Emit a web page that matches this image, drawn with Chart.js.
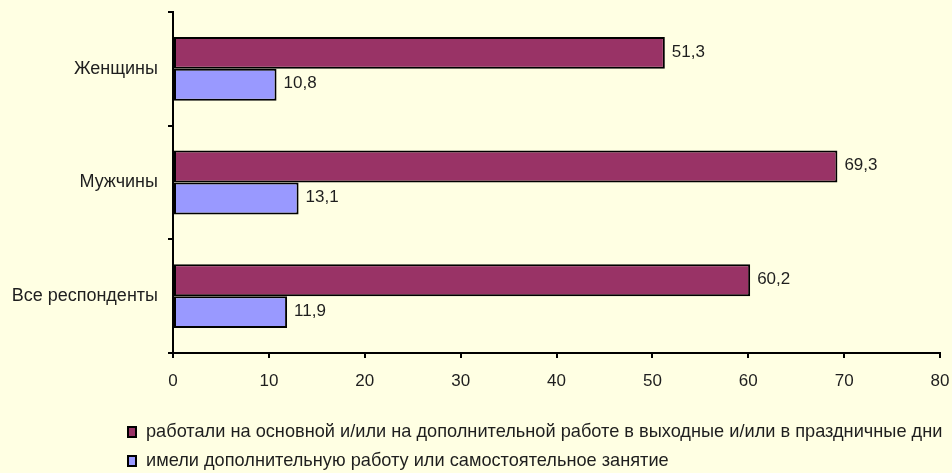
<!DOCTYPE html>
<html>
<head>
<meta charset="utf-8">
<script src="https://cdn.jsdelivr.net/npm/chart.js@4/dist/chart.umd.min.js"></script>
<style>
  html, body { margin: 0; padding: 0; background: #FFFFE3; }
  #wrap { width: 952px; height: 473px; position: relative; }
</style>
</head>
<body>
<div id="wrap"><canvas id="c"></canvas></div>
<script>
const categories = ["Женщины", "Мужчины", "Все респонденты"];
const seriesNames = [
  "работали на основной и/или на дополнительной работе в выходные и/или в праздничные дни",
  "имели дополнительную работу или самостоятельное занятие"
];
const weekendWork = [51.3, 69.3, 60.2];
const extraWork = [10.8, 13.1, 11.9];
const xTicks = [0, 10, 20, 30, 40, 50, 60, 70, 80];
const colors = ["#993366", "#9999FF"];

const FONT = "'Liberation Sans', Arial, sans-serif";
const TEXT = "#1e1e1e";

const fmt = v => v.toFixed(1).replace('.', ',');

const valueLabels = {
  id: 'valueLabels',
  afterDatasetsDraw(chart) {
    const ctx = chart.ctx;
    ctx.save();
    ctx.font = "17px " + FONT;
    ctx.fillStyle = TEXT;
    ctx.textAlign = 'left';
    ctx.textBaseline = 'middle';
    chart.data.datasets.forEach((ds, di) => {
      chart.getDatasetMeta(di).data.forEach((el, i) => {
        ctx.fillText(fmt(ds.data[i]), el.x + 7, el.y - 1);
      });
    });
    ctx.restore();
  }
};

const customLegend = {
  id: 'customLegend',
  afterDraw(chart) {
    const ctx = chart.ctx;
    ctx.save();
    ctx.font = "18.2px " + FONT;
    ctx.textBaseline = 'middle';
    ctx.textAlign = 'left';
    const rows = [432, 461];
    chart.data.datasets.forEach((ds, i) => {
      const y = rows[i];
      ctx.fillStyle = ds.backgroundColor;
      ctx.fillRect(128, y - 5, 8, 10);
      ctx.strokeStyle = '#000';
      ctx.lineWidth = 2;
      ctx.strokeRect(128, y - 5, 8, 10);
      ctx.fillStyle = TEXT;
      ctx.fillText(ds.label, 146, y);
    });
    ctx.restore();
  }
};

new Chart(document.getElementById('c'), {
  type: 'bar',
  data: {
    labels: categories,
    datasets: [
      { label: seriesNames[0], data: weekendWork, backgroundColor: colors[0], borderColor: '#000', borderWidth: 2, borderSkipped: false },
      { label: seriesNames[1], data: extraWork, backgroundColor: colors[1], borderColor: '#000', borderWidth: 2, borderSkipped: false }
    ]
  },
  options: {
    indexAxis: 'y',
    responsive: true,
    maintainAspectRatio: false,
    animation: false,
    datasets: { bar: { categoryPercentage: 0.5614, barPercentage: 1.0 } },
    layout: { padding: { top: 12, right: 12, left: 0, bottom: 0 } },
    plugins: {
      legend: { display: false },
      tooltip: { enabled: false }
    },
    scales: {
      x: {
        min: 0, max: 80,
        afterBuildTicks(axis) { axis.ticks = xTicks.map(v => ({ value: v })); },
        afterFit(axis) { axis.height = 120; axis.paddingLeft = 0; axis.paddingRight = 0; },
        ticks: { color: TEXT, font: { family: FONT, size: 17 }, padding: 13, maxRotation: 0 },
        grid: { drawOnChartArea: false, drawTicks: true, tickLength: 5, color: '#000', lineWidth: 2 },
        border: { display: true, color: '#000', width: 2 }
      },
      y: {
        afterFit(axis) { axis.width = 173; axis.paddingTop = 0; axis.paddingBottom = 0; },
        ticks: { color: TEXT, font: { family: FONT, size: 18 }, padding: 10 },
        grid: { offset: true, drawOnChartArea: false, drawTicks: true, tickLength: 5, color: '#000', lineWidth: 2 },
        border: { display: true, color: '#000', width: 2 }
      }
    }
  },
  plugins: [valueLabels, customLegend]
});
</script>
</body>
</html>
